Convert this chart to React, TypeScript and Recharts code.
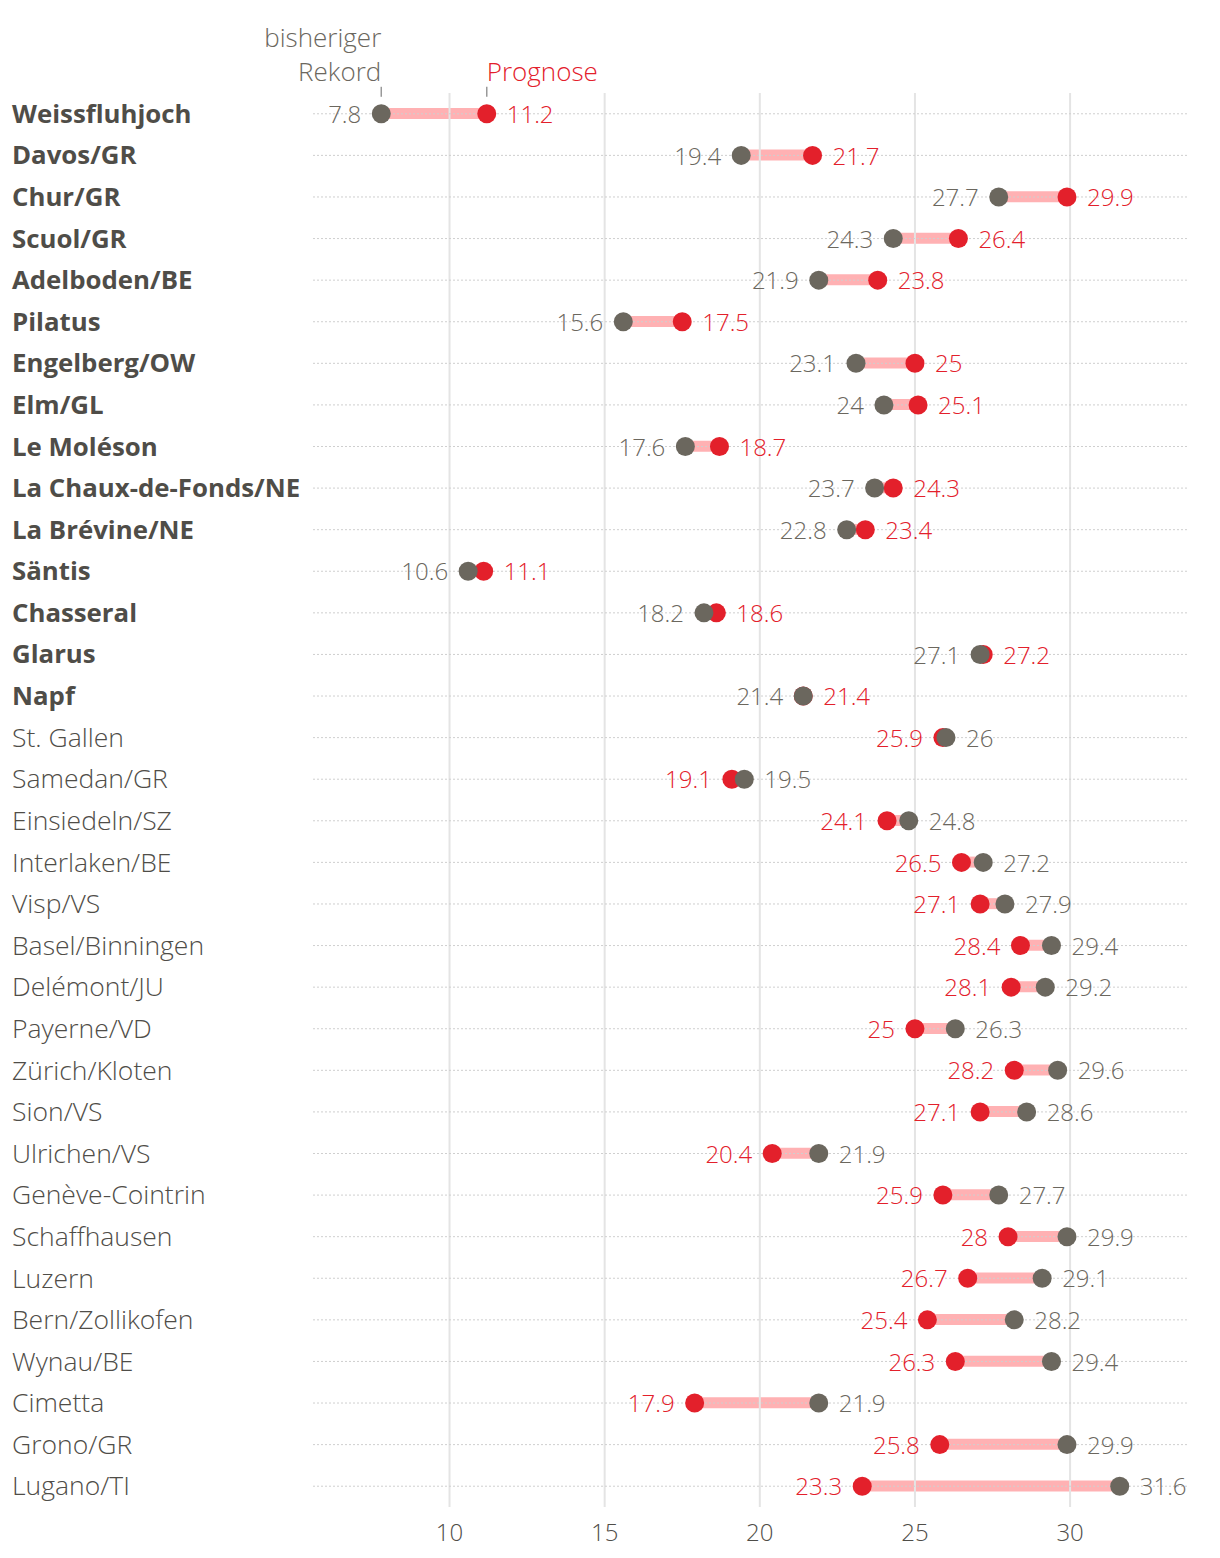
import React from 'react';
import {
  ComposedChart,
  Bar,
  Line,
  XAxis,
  YAxis,
  ReferenceLine,
  LabelList,
} from 'recharts';

const stations = [
  'Weissfluhjoch', 'Davos/GR', 'Chur/GR', 'Scuol/GR', 'Adelboden/BE', 'Pilatus',
  'Engelberg/OW', 'Elm/GL', 'Le Moléson', 'La Chaux-de-Fonds/NE', 'La Brévine/NE',
  'Säntis', 'Chasseral', 'Glarus', 'Napf', 'St. Gallen', 'Samedan/GR', 'Einsiedeln/SZ',
  'Interlaken/BE', 'Visp/VS', 'Basel/Binningen', 'Delémont/JU', 'Payerne/VD',
  'Zürich/Kloten', 'Sion/VS', 'Ulrichen/VS', 'Genève-Cointrin', 'Schaffhausen',
  'Luzern', 'Bern/Zollikofen', 'Wynau/BE', 'Cimetta', 'Grono/GR', 'Lugano/TI',
];

// bisheriger Rekord (grau)
const rekord = [
  7.8, 19.4, 27.7, 24.3, 21.9, 15.6, 23.1, 24, 17.6, 23.7, 22.8, 10.6, 18.2, 27.1, 21.4,
  26, 19.5, 24.8, 27.2, 27.9, 29.4, 29.2, 26.3, 29.6, 28.6, 21.9, 27.7, 29.9, 29.1, 28.2,
  29.4, 21.9, 29.9, 31.6,
];

// Prognose (rot)
const prognose = [
  11.2, 21.7, 29.9, 26.4, 23.8, 17.5, 25, 25.1, 18.7, 24.3, 23.4, 11.1, 18.6, 27.2, 21.4,
  25.9, 19.1, 24.1, 26.5, 27.1, 28.4, 28.1, 25, 28.2, 27.1, 20.4, 25.9, 28, 26.7, 25.4,
  26.3, 17.9, 25.8, 23.3,
];

const boldCount = 15;
const xTicks = [10, 15, 20, 25, 30];

const GRAY = '#6b675e';
const RED = '#e3202b';
const PINK = '#ffb1b3';
const TEXT = '#4f4d48';
const FONT = "'Open Sans', sans-serif";
const FS = 24;

const data = stations.map((name, i) => ({
  name,
  rekord: rekord[i],
  prognose: prognose[i],
  span: [Math.min(rekord[i], prognose[i]), Math.max(rekord[i], prognose[i])],
}));

function StationTick(props: any) {
  const { y, payload } = props;
  const i = stations.indexOf(payload.value);
  const bold = i < boldCount;
  return (
    <text
      x={12}
      y={y}
      dy="0.35em"
      fontFamily={FONT}
      fontSize={bold ? 25.8 : 26.5}
      fontWeight={bold ? 700 : 300}
      fill={TEXT}
    >
      {payload.value}
    </text>
  );
}

function valueLabel(series: 'rekord' | 'prognose') {
  return (props: any) => {
    const { x, y, value, index } = props;
    const grayLeft = rekord[index] <= prognose[index];
    const left = series === 'rekord' ? grayLeft : !grayLeft;
    return (
      <text
        x={left ? x - 20 : x + 20}
        y={y}
        dy="0.38em"
        textAnchor={left ? 'end' : 'start'}
        fontFamily={FONT}
        fontSize={FS}
        fontWeight={300}
        fill={series === 'rekord' ? GRAY : RED}
      >
        {String(value)}
      </text>
    );
  };
}

function RekordDot(props: any) {
  const { cx, cy, index } = props;
  return (
    <g key={`r-${index}`}>
      <circle cx={cx} cy={cy} r={9.5} fill={GRAY} />
      {index === 0 && (
        <g fontFamily={FONT} fontSize={26} fontWeight={300}>
          <text x={cx} y={cy - 67} textAnchor="end" fill={GRAY}>bisheriger</text>
          <text x={cx} y={cy - 33} textAnchor="end" fill={GRAY}>Rekord</text>
          <line x1={cx} x2={cx} y1={cy - 27} y2={cy - 17} stroke="#999" strokeWidth={1.5} />
        </g>
      )}
    </g>
  );
}

function PrognoseDot(props: any) {
  const { cx, cy, index } = props;
  return (
    <g key={`p-${index}`}>
      <circle cx={cx} cy={cy} r={9.5} fill={RED} />
      {index === 0 && (
        <g fontFamily={FONT} fontSize={26} fontWeight={300}>
          <text x={cx} y={cy - 33} textAnchor="start" fill={RED}>Prognose</text>
          <line x1={cx} x2={cx} y1={cy - 27} y2={cy - 17} stroke="#999" strokeWidth={1.5} />
        </g>
      )}
    </g>
  );
}

export default function App() {
  return (
    <div style={{ margin: -8, background: '#fff', width: 1220, height: 1558 }}>
      <ComposedChart
        width={1220}
        height={1558}
        data={data}
        layout="vertical"
        margin={{ top: 93, right: 32, left: 0, bottom: 0 }}
      >
        <XAxis
          type="number"
          domain={[5.6, 33.8]}
          ticks={xTicks}
          axisLine={false}
          tickLine={false}
          height={51}
          tickMargin={11}
          tick={{ fontSize: FS, fill: TEXT, fontFamily: FONT, fontWeight: 300 }}
        />
        <YAxis
          type="category"
          dataKey="name"
          width={313}
          interval={0}
          axisLine={false}
          tickLine={false}
          tick={<StationTick />}
        />
        {xTicks.map((t) => (
          <ReferenceLine key={`v-${t}`} x={t} stroke="#e4e4e4" strokeWidth={2} />
        ))}
        {stations.map((s) => (
          <ReferenceLine key={`h-${s}`} y={s} stroke="#cfcfcf" strokeDasharray="2 2" />
        ))}
        <Bar dataKey="span" barSize={11} fill={PINK} isAnimationActive={false} />
        <Line
          dataKey="prognose"
          stroke="none"
          dot={<PrognoseDot />}
          activeDot={false}
          isAnimationActive={false}
        >
          <LabelList dataKey="prognose" content={valueLabel('prognose')} />
        </Line>
        <Line
          dataKey="rekord"
          stroke="none"
          dot={<RekordDot />}
          activeDot={false}
          isAnimationActive={false}
        >
          <LabelList dataKey="rekord" content={valueLabel('rekord')} />
        </Line>
      </ComposedChart>
    </div>
  );
}
